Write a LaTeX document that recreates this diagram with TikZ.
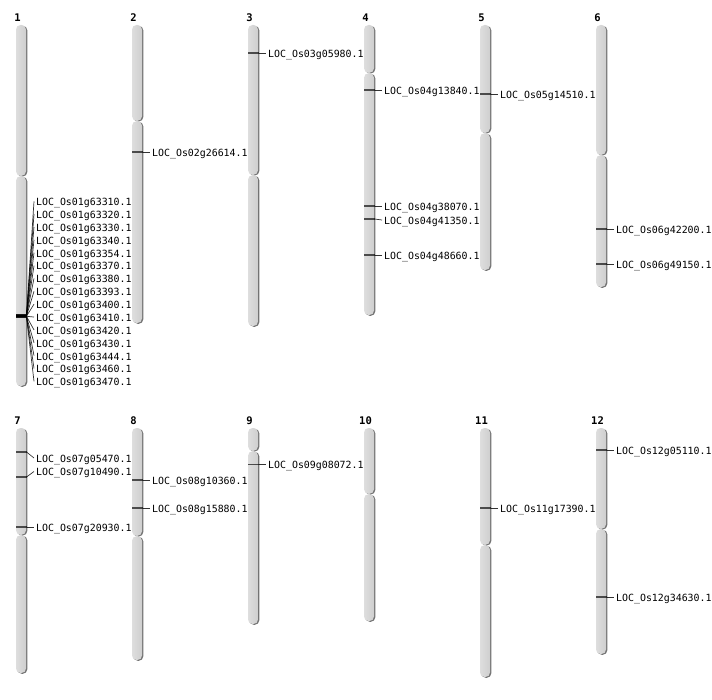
\documentclass[tikz,border=0pt]{standalone}
\usepackage{fontspec}
\setmonofont{DejaVu Sans Mono}
\tikzset{
  chrom/.style={left color=black!13, right color=black!19, rounded corners=4.5pt},
  chromshadow/.style={fill=black!55, rounded corners=4.5pt},
  marker/.style={draw=black, draw opacity=0.65, line width=1.3pt},
  link/.style={draw=black, draw opacity=0.8, line width=0.7pt},
  locus/.style={font=\ttfamily\fontsize{9.9pt}{11pt}\selectfont, anchor=west, inner sep=2pt,
    text height=8.8pt, text depth=0pt},
  chrname/.style={font=\ttfamily\bfseries\fontsize{10.5pt}{12pt}\selectfont, inner sep=0pt},
}
\begin{document}
\begin{tikzpicture}[x=1pt,y=-1pt]
  \useasboundingbox (0,0) rectangle (712,700);
  % chromosomes: number/left/top/centromere/bottom
  \foreach \n/\x/\t/\c/\b in {1/16/25/176/386, 2/132/25/121/323, 3/248/25/175/326,
      4/364/25/73/315, 5/480/25/133/270, 6/596/25/155/287,
      7/16/428/535/673, 8/132/428/536/660, 9/248/428/451/624,
      10/364/428/494/621, 11/480/428/545/677, 12/596/428/529/654}{
    \node[chrname] (c\n) at (\x+1.5,\t-7) {\n};
    \fill[chromshadow] (\x+1.3,\t+0.8) rectangle (\x+11.3,\c+0.5); % short arm
    \shade[chrom] (\x,\t) rectangle (\x+10,\c-0.2);
    \fill[chromshadow] (\x+1.3,\c+0.8) rectangle (\x+11.3,\b+0.8); % long arm
    \shade[chrom] (\x,\c+0.2) rectangle (\x+10,\b);
  }
  % loci on chromosome 1, all at the same spot
  \foreach \g [count=\k from 0] in {63310,63320,63330,63340,63354,63370,63380,63393,
      63400,63410,63420,63430,63444,63460,63470}{
    \coordinate (m01g\g) at (26.5,315+\k/7);
    \draw[marker] (16,315+\k/7) -- (m01g\g);
    \node[locus] (l01g\g) at (34,{201.3+12.86*\k}) {LOC\_Os01g\g.1};
    \draw[link] (m01g\g) -- (l01g\g.west);
  }
  % other loci: gene/left/marker/label
  \foreach \g/\x/\ym/\yl in {02g26614/132/152/152, 03g05980/248/53/53,
      04g13840/364/90/90, 04g38070/364/206/206, 04g41350/364/219/220, 04g48660/364/255/255,
      05g14510/480/94/94, 06g42200/596/229/229, 06g49150/596/264/264,
      07g05470/16/452/458, 07g10490/16/477/471.5, 07g20930/16/527/527,
      08g10360/132/480/480, 08g15880/132/508/508, 09g08072/248/464.5/464.5,
      11g17390/480/508/508, 12g05110/596/450/450, 12g34630/596/597/597}{
    \coordinate (m\g) at (\x+10.5,\ym);
    \draw[marker] (\x,\ym) -- (m\g);
    \node[locus] (l\g) at (\x+18,\yl) {LOC\_Os\g.1};
    \draw[link] (m\g) -- (l\g.west);
  }
\end{tikzpicture}
\end{document}
